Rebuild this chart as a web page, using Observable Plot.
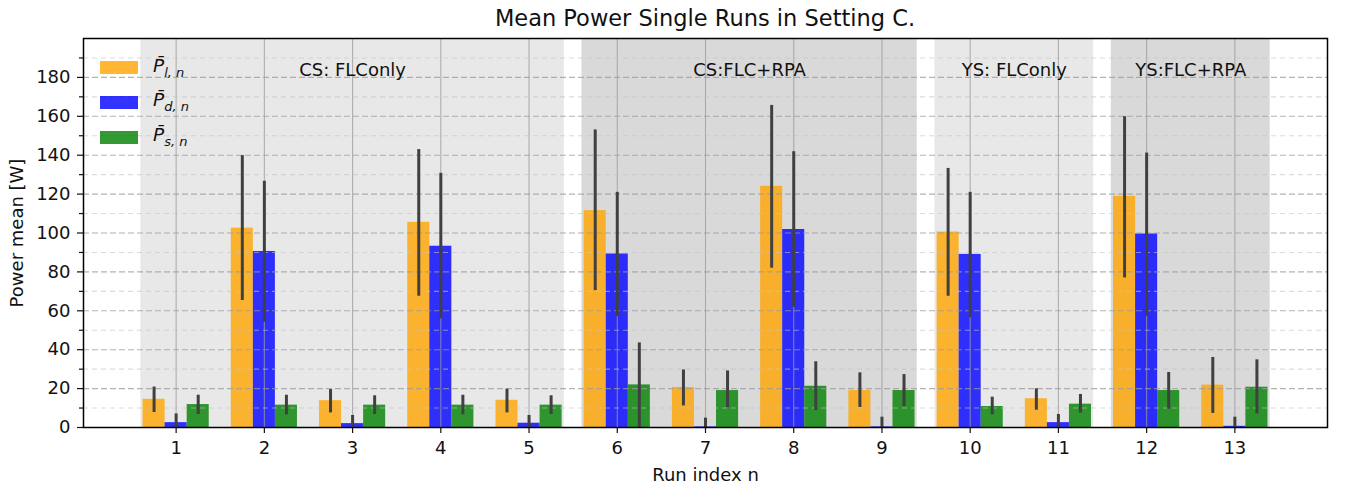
<!DOCTYPE html>
<html><head><meta charset="utf-8">
<script src="https://cdn.jsdelivr.net/npm/d3@7"></script>
<script src="https://cdn.jsdelivr.net/npm/@observablehq/plot@0.6"></script>
<style>
body{margin:0;background:#fff;font-family:"DejaVu Sans",sans-serif;}
#wrap{position:relative;width:1346px;height:486px;overflow:hidden;}
#title{position:absolute;left:83px;width:1244px;top:3px;line-height:30px;text-align:center;font-size:22.5px;color:#111;z-index:2;}
#chart{position:absolute;left:0;top:30px;z-index:1;}
.lg{position:absolute;left:0;top:0;z-index:3;}
.sw{position:absolute;width:38px;height:13px;}
.lt{position:absolute;font-size:18.5px;line-height:20px;font-style:italic;color:#111;white-space:nowrap;}
.lt sub{font-size:13px;vertical-align:-5px;}
</style></head><body>
<div id="wrap"><div id="title">Mean Power Single Runs in Setting C.</div><div id="chart"></div><div class="lg" id="legend"></div></div>
<script>
// ---- data ----
const runs = [1,2,3,4,5,6,7,8,9,10,11,12,13];
const seriesNames = ["Pl","Pd","Ps"];
const seriesSub = ["l, n","d, n","s, n"];
const Pl    = [14.5, 102.5, 13.8, 105.5, 14.0, 111.5, 20.6, 124.0, 19.0, 100.5, 14.8, 118.8, 21.8];
const Pl_lo = [7.7, 65.3, 7.5, 67.5, 7.5, 70.4, 11.1, 81.9, 10.3, 67.5, 8.9, 76.9, 7.2];
const Pl_hi = [20.8, 139.8, 19.5, 142.9, 19.7, 153.0, 29.6, 165.6, 28.1, 133.2, 19.9, 159.8, 36.0];
const Pd    = [2.5, 90.5, 2.0, 93.2, 2.2, 89.2, 0.3, 101.8, 0.3, 89.0, 2.5, 99.5, 0.6];
const Pd_lo = [0, 54.1, 0, 55.8, 0, 57.0, 0, 61.8, 0, 56.4, 0, 57.2, 0];
const Pd_hi = [7.0, 126.6, 6.2, 130.7, 6.2, 120.9, 4.8, 141.8, 5.3, 120.9, 6.7, 141.1, 5.3];
const Ps    = [11.8, 11.5, 11.5, 11.5, 11.5, 21.9, 19.0, 21.2, 19.0, 10.8, 12.0, 19.0, 20.7];
const Ps_lo = [6.7, 6.5, 6.7, 6.5, 6.7, 0, 10.3, 8.7, 10.8, 6.5, 7.4, 9.4, 7.0];
const Ps_hi = [16.6, 16.6, 16.3, 16.6, 16.3, 43.5, 29.1, 33.8, 27.2, 15.6, 17.0, 28.3, 34.8];
const regionStart = [0.6, 5.6, 9.6, 11.6];
const regionEnd   = [5.4, 9.4, 11.4, 13.4];
const regionLabel = ["CS: FLConly", "CS:FLC+RPA", "YS: FLConly", "YS:FLC+RPA"];
const regionKind  = ["FLConly", "FLC+RPA", "FLConly", "FLC+RPA"];
const yMajor = [0,20,40,60,80,100,120,140,160,180];
const yMinor = [10,30,50,70,90,110,130,150,170,190];

// ---- styles ----
const colors = {Pl: "orange", Pd: "blue", Ps: "green"};
const shade = {"FLConly": "#e8e8e8", "FLC+RPA": "#d9d9d9"};
const barW = 0.25;

const vals = {Pl:[Pl,Pl_lo,Pl_hi], Pd:[Pd,Pd_lo,Pd_hi], Ps:[Ps,Ps_lo,Ps_hi]};
const rows = [];
seriesNames.forEach((s, k) => {
  runs.forEach((r, i) => {
    rows.push({run: r, series: s, value: vals[s][0][i], lo: vals[s][1][i], hi: vals[s][2][i], pos: r + (k - 1) * barW});
  });
});
const regions = regionStart.map((a, i) => ({x1: a, x2: regionEnd[i], label: regionLabel[i], kind: regionKind[i]}));

const chart = Plot.plot({
  width: 1346, height: 456,
  marginTop: 8, marginBottom: 59, marginLeft: 83, marginRight: 19,
  style: {fontFamily: "DejaVu Sans, sans-serif", fontSize: "18px", color: "#111", background: "transparent"},
  x: {type: "linear", domain: [-0.05, 14.05]},
  y: {domain: [0, 200]},
  marks: [
    Plot.rect(regions, {x1: "x1", x2: "x2", fill: d => shade[d.kind]}),
    Plot.rect(rows, {x1: d => d.pos - barW/2, x2: d => d.pos + barW/2, y1: 0, y2: "value",
      fill: d => colors[d.series], fillOpacity: 0.8, inset: 0}),
    Plot.ruleX(runs, {stroke: "#999", strokeOpacity: 0.75, strokeWidth: 1.1}),
    Plot.ruleY(yMinor, {stroke: "#c4c4c4", strokeOpacity: 0.6, strokeWidth: 1.1, strokeDasharray: "5,4"}),
    Plot.ruleY(yMajor.filter(v => v > 0), {stroke: "#999", strokeOpacity: 0.75, strokeWidth: 1.1, strokeDasharray: "6,3"}),
    Plot.ruleX(rows, {x: "pos", y1: "lo", y2: "hi", stroke: "#404040", strokeWidth: 3}),
    Plot.text(regions, {x: d => (d.x1 + d.x2)/2, text: "label", frameAnchor: "top", dy: 32, fontSize: 18, fill: "#111", lineAnchor: "middle"}),
    Plot.axisY(yMajor, {tickSize: 6, tickPadding: 7, label: null, fontSize: 18, strokeWidth: 1.2}),
    Plot.axisY(yMinor, {tickSize: 4, tickFormat: () => "", label: null, strokeWidth: 1.2}),
    Plot.axisX(runs, {tickSize: 6, tickPadding: 8, label: null, fontSize: 18, strokeWidth: 1.2}),
    Plot.text(["Run index n"], {frameAnchor: "bottom", dy: 48, fontSize: 18, fill: "#111", lineAnchor: "middle"}),
    Plot.text(["Power mean [W]"], {frameAnchor: "left", dx: -66, rotate: -90, fontSize: 18, fill: "#111", lineAnchor: "middle", textAnchor: "middle"}),
    Plot.frame({stroke: "black", strokeWidth: 1.5})
  ]
});
document.getElementById("chart").appendChild(chart);

// legend (HTML overlay inside the plot area)
const lg = document.getElementById("legend");
const lgCenters = [67.5, 102, 137];
seriesNames.forEach((s, k) => {
  const sw = document.createElement("div");
  sw.className = "sw";
  sw.style.left = "100px";
  sw.style.top = (lgCenters[k] - 6.5) + "px";
  sw.style.background = colors[s];
  sw.style.opacity = 0.8;
  lg.appendChild(sw);
  const t = document.createElement("div");
  t.className = "lt";
  t.style.left = "153px";
  t.style.top = (lgCenters[k] - 12) + "px";
  t.innerHTML = "P\u0304<sub>" + seriesSub[k] + "</sub>";
  lg.appendChild(t);
});
</script>
</body></html>
